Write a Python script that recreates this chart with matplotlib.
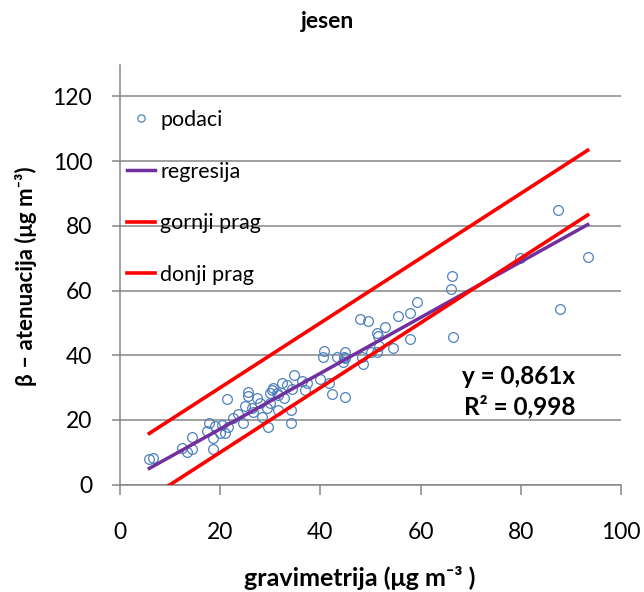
import numpy as np
import matplotlib
matplotlib.use("Agg")
import matplotlib.pyplot as plt

plt.rcParams['font.family'] = ['Lato', 'DejaVu Sans']

# gravimetric vs beta-attenuation PM, autumn samples
grav = [5.85, 6.53, 12.32, 13.31, 14.43, 14.43, 18.62, 17.70, 17.31, 18.96,
        20.30, 19.96, 20.96, 21.62, 18.62, 21.42, 25.49, 25.61, 27.29, 30.28,
        29.94, 32.40, 33.39, 34.73, 31.60, 27.94, 26.29, 24.95, 23.61, 22.61,
        24.49, 28.28, 31.60, 29.94, 34.13, 29.28, 26.61, 47.90, 49.44, 51.24,
        51.44, 40.72, 40.58, 43.25, 44.91, 44.71, 48.24, 48.56, 51.24, 41.78,
        42.26, 44.91, 39.92, 36.27, 37.39, 36.93, 34.27, 34.13, 29.60, 30.60,
        32.73, 31.28, 52.89, 55.55, 57.88, 51.76, 54.43, 57.88, 44.91, 44.57,
        50.10, 79.84, 93.35, 66.33, 66.01, 59.34, 87.82, 66.53, 87.49]
beta = [7.85, 8.16, 11.44, 10.20, 10.94, 14.84, 10.94, 19.17, 16.60, 18.15,
        18.45, 15.89, 15.89, 17.93, 14.34, 26.49, 28.56, 27.51, 26.71, 29.27,
        28.25, 31.34, 30.82, 33.91, 27.73, 25.16, 23.62, 24.33, 21.76, 20.53,
        18.98, 21.02, 23.09, 25.16, 19.17, 23.62, 22.57, 51.22, 50.70, 46.80,
        45.97, 41.33, 39.57, 39.38, 40.93, 39.57, 39.57, 37.31, 41.11, 31.34,
        27.94, 27.20, 32.58, 32.15, 31.34, 29.27, 29.49, 23.09, 17.93, 29.80,
        26.71, 28.25, 48.66, 52.24, 53.17, 42.97, 42.16, 44.95, 39.07, 37.84,
        41.11, 69.99, 70.48, 64.61, 60.40, 56.38, 54.31, 45.66, 84.91]

reg_slope = 0.861
r2 = 0.998
prag = 10  # +/- band around the 1:1 line

x_ticks = [0, 20, 40, 60, 80, 100]
y_ticks = [0, 20, 40, 60, 80, 100, 120]

grid_col = '#868686'

fig = plt.figure(figsize=(6.44, 5.92), dpi=100)
ax = fig.add_axes([120 / 644, 1 - 484.7 / 592, 501 / 644, 419.7 / 592])

ax.plot(grav, beta, linestyle='none', marker='o', markersize=7,
        markerfacecolor='none', markeredgecolor='#4F81BD', markeredgewidth=0.9,
        label='podaci', zorder=3)

xs = np.array([min(grav), max(grav)])
ax.plot(xs, reg_slope * xs, color='#7030A0', lw=2.5, label='regresija', zorder=4)
ax.plot(xs, xs + prag, color='#FF0000', lw=2.6, label='gornji prag', zorder=4)
ax.plot(xs, xs - prag, color='#FF0000', lw=2.6, label='donji prag', zorder=4)

ax.set_xlim(0, 100)
ax.set_ylim(0, 129.7)
ax.set_xticks(x_ticks)
ax.set_yticks(y_ticks)
ax.yaxis.grid(True, color=grid_col, lw=1.1)
ax.set_axisbelow(True)

for side in ['top', 'right']:
    ax.spines[side].set_visible(False)
for side in ['left', 'bottom']:
    ax.spines[side].set_color(grid_col)
    ax.spines[side].set_linewidth(1.1)

ax.tick_params(axis='x', direction='out', length=7, width=1.1, color=grid_col,
               pad=20, labelsize=16.5, labelcolor='black')
ax.tick_params(axis='y', direction='out', length=6, width=1.1, color=grid_col,
               pad=14, labelsize=16.5, labelcolor='black')

leg = ax.legend(loc='upper left', bbox_to_anchor=(127 / 644, 1 - 110 / 592),
                bbox_transform=fig.transFigure, frameon=False, fontsize=15.5,
                borderpad=0, borderaxespad=0, labelspacing=1.47,
                handlelength=1.3, handletextpad=0.25, markerscale=0.75)

fig.text(327 / 644, 1 - 22 / 592, 'jesen', ha='center', va='center',
         fontsize=16.5, fontweight='bold')
fig.text(26 / 644, 1 - 276 / 592, 'β – atenuacija (μg m⁻³)', rotation=90,
         ha='center', va='center', fontsize=16, fontweight='bold')
fig.text(360 / 644, 1 - 578 / 592, 'gravimetrija (μg m⁻³ )', ha='center',
         va='center', fontsize=18, fontweight='bold')

fig.text(462 / 644, 1 - 377 / 592, 'y = ' + f'{reg_slope:.3f}'.replace('.', ',') + 'x',
         ha='left', va='center', fontsize=17.5, fontweight='bold')
fig.text(464 / 644, 1 - 407 / 592, 'R² = ' + f'{r2:.3f}'.replace('.', ','),
         ha='left', va='center', fontsize=17.5, fontweight='bold')

fig.savefig('out.png', dpi=100)
